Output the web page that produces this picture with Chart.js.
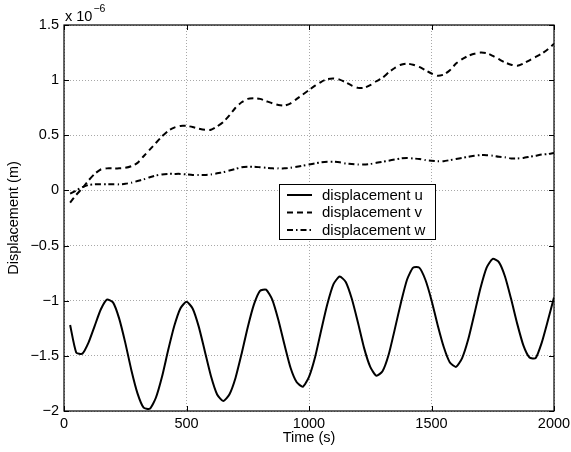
<!DOCTYPE html>
<html>
<head>
<meta charset="utf-8">
<script src="https://cdn.jsdelivr.net/npm/chart.js@4.4.1/dist/chart.umd.min.js"></script>
<style>
  html, body { margin: 0; padding: 0; background: #fff; }
  canvas { display: block; }
</style>
</head>
<body>
<canvas id="chart" width="571" height="452"></canvas>
<script>
// time samples (s)
const times = [25, 50, 75, 100, 125, 150, 175, 200, 225, 250, 275, 300, 325, 350, 375, 400,
  425, 450, 475, 500, 525, 550, 575, 600, 625, 650, 675, 700, 725, 750, 775, 800,
  825, 850, 875, 900, 925, 950, 975, 1000, 1025, 1050, 1075, 1100, 1125, 1150, 1175, 1200,
  1225, 1250, 1275, 1300, 1325, 1350, 1375, 1400, 1425, 1450, 1475, 1500, 1525, 1550, 1575, 1600,
  1625, 1650, 1675, 1700, 1725, 1750, 1775, 1800, 1825, 1850, 1875, 1900, 1925, 1950, 1975, 2000]

// displacements, in units of 1e-6 m
const dispU = [-1.22, -1.47, -1.48, -1.38, -1.23, -1.08, -0.99, -1.015, -1.16, -1.38, -1.63, -1.84, -1.97, -1.98, -1.88, -1.69,
  -1.45, -1.23, -1.07, -1.01, -1.07, -1.235, -1.46, -1.685, -1.85, -1.91, -1.85, -1.70, -1.48, -1.24, -1.035, -0.91,
  -0.90, -0.99, -1.175, -1.40, -1.61, -1.74, -1.78, -1.69, -1.51, -1.265, -1.03, -0.85, -0.78, -0.83, -0.985, -1.20,
  -1.43, -1.60, -1.68, -1.64, -1.49, -1.26, -1.02, -0.81, -0.70, -0.70, -0.81, -0.995, -1.22, -1.42, -1.56, -1.60,
  -1.52, -1.35, -1.12, -0.885, -0.70, -0.62, -0.65, -0.78, -0.985, -1.21, -1.405, -1.515, -1.52, -1.38, -1.18, -0.97]

const dispV = [-0.11, -0.04, 0.02, 0.09, 0.15, 0.19, 0.20, 0.20, 0.20, 0.205, 0.22, 0.25, 0.31, 0.37, 0.43, 0.49,
  0.54, 0.57, 0.585, 0.585, 0.575, 0.56, 0.55, 0.55, 0.58, 0.62, 0.68, 0.75, 0.80, 0.83, 0.835, 0.83,
  0.81, 0.79, 0.775, 0.77, 0.79, 0.83, 0.87, 0.91, 0.95, 0.985, 1.01, 1.015, 1.005, 0.98, 0.95, 0.93,
  0.93, 0.955, 0.99, 1.02, 1.07, 1.11, 1.14, 1.15, 1.14, 1.12, 1.09, 1.06, 1.04, 1.05, 1.09, 1.15,
  1.19, 1.22, 1.24, 1.25, 1.245, 1.22, 1.19, 1.16, 1.14, 1.13, 1.15, 1.18, 1.21, 1.24, 1.28, 1.33]

const dispW = [-0.03, 0.00, 0.03, 0.05, 0.055, 0.055, 0.055, 0.055, 0.055, 0.06, 0.07, 0.085, 0.10, 0.12, 0.135, 0.145,
  0.15, 0.15, 0.15, 0.145, 0.14, 0.14, 0.14, 0.145, 0.155, 0.165, 0.18, 0.195, 0.21, 0.215, 0.215, 0.21,
  0.205, 0.20, 0.20, 0.20, 0.205, 0.215, 0.225, 0.235, 0.245, 0.255, 0.26, 0.26, 0.255, 0.245, 0.24, 0.235,
  0.235, 0.24, 0.25, 0.26, 0.27, 0.28, 0.29, 0.295, 0.29, 0.285, 0.275, 0.27, 0.265, 0.265, 0.275, 0.285,
  0.295, 0.305, 0.315, 0.32, 0.32, 0.315, 0.305, 0.30, 0.29, 0.29, 0.295, 0.305, 0.315, 0.325, 0.33, 0.34]

const seriesLabels = ['displacement u', 'displacement v', 'displacement w']
const xTicks = [0, 500, 1000, 1500, 2000]
const yTicks = [-2, -1.5, -1, -0.5, 0, 0.5, 1, 1.5]

const FONT = '"Liberation Sans", Arial, Helvetica, sans-serif'

const toPoints = (ys) => ys.map((y, i) => ({ x: times[i], y: y }))

const fmt = (v) => {
    const s = String(Math.abs(v))
    return v < 0 ? '\u2212' + s : s
}

// box, inward ticks, exponent label and legend, MATLAB style
const matlabBits = {
    id: 'matlabBits',
    afterDraw(chart) {
        const { ctx, chartArea: a, scales } = chart
        ctx.save()
        ctx.strokeStyle = '#000'
        ctx.lineWidth = 1.2
        ctx.setLineDash([])
        ctx.strokeRect(a.left, a.top, a.right - a.left, a.bottom - a.top)

        const tl = 5
        ctx.beginPath()
        xTicks.forEach(t => {
            const x = Math.round(scales.x.getPixelForValue(t)) + 0.5
            ctx.moveTo(x, a.bottom); ctx.lineTo(x, a.bottom - tl)
            ctx.moveTo(x, a.top); ctx.lineTo(x, a.top + tl)
        })
        yTicks.forEach(t => {
            const y = Math.round(scales.y.getPixelForValue(t)) + 0.5
            ctx.moveTo(a.left, y); ctx.lineTo(a.left + tl, y)
            ctx.moveTo(a.right, y); ctx.lineTo(a.right - tl, y)
        })
        ctx.lineWidth = 1
        ctx.stroke()

        // x 10^-6
        ctx.fillStyle = '#000'
        ctx.textBaseline = 'alphabetic'
        ctx.textAlign = 'left'
        ctx.font = '14.5px ' + FONT
        ctx.fillText('x 10', a.left + 1, 21)
        const w10 = ctx.measureText('x 10').width
        ctx.font = '10.5px ' + FONT
        ctx.fillText('\u22126', a.left + 1 + w10 + 1, 12)

        // legend
        const lx = 279, ly = 184, lw = 156, lh = 55
        ctx.fillStyle = '#fff'
        ctx.fillRect(lx, ly, lw, lh)
        ctx.strokeStyle = '#000'
        ctx.lineWidth = 1
        ctx.strokeRect(lx + 0.5, ly + 0.5, lw, lh)
        const rows = [195, 212.5, 230]
        chart.data.datasets.forEach((ds, i) => {
            ctx.beginPath()
            ctx.setLineDash(ds.borderDash || [])
            ctx.lineWidth = ds.borderWidth
            ctx.moveTo(287, rows[i]); ctx.lineTo(312, rows[i])
            ctx.stroke()
            ctx.setLineDash([])
            ctx.fillStyle = '#000'
            ctx.font = '15px ' + FONT
            ctx.textBaseline = 'middle'
            ctx.fillText(ds.label, 322, rows[i] + 0.5)
        })
        ctx.restore()
    }
}

new Chart(document.getElementById('chart'), {
    type: 'line',
    data: {
        datasets: [
            { label: seriesLabels[0], data: toPoints(dispU), borderColor: '#000', borderWidth: 2, borderDash: [] },
            { label: seriesLabels[1], data: toPoints(dispV), borderColor: '#000', borderWidth: 2, borderDash: [6, 4] },
            { label: seriesLabels[2], data: toPoints(dispW), borderColor: '#000', borderWidth: 2, borderDash: [6, 3, 1.5, 3] }
        ]
    },
    options: {
        responsive: false,
        animation: false,
        layout: { padding: { top: 25, right: 17, left: 0, bottom: 0 } },
        elements: { point: { radius: 0 }, line: { tension: 0.2, fill: false } },
        plugins: { legend: { display: false }, tooltip: { enabled: false } },
        scales: {
            x: {
                type: 'linear',
                min: 0, max: 2000,
                afterBuildTicks: (s) => { s.ticks = xTicks.map(v => ({ value: v })) },
                afterFit: (s) => { s.height = 41; s.paddingLeft = 0; s.paddingRight = 0 },
                ticks: { color: '#000', padding: 4, maxRotation: 0, callback: (v) => fmt(v), font: { family: FONT, size: 14.5 } },
                grid: { color: '#a8a8a8', lineWidth: 1, drawTicks: false },
                border: { display: false, dash: [1, 2] },
                title: { display: true, text: 'Time (s)', color: '#000', padding: { top: 0, bottom: 5 }, font: { family: FONT, size: 14.5 } }
            },
            y: {
                min: -2, max: 1.5,
                afterBuildTicks: (s) => { s.ticks = yTicks.map(v => ({ value: v })) },
                afterFit: (s) => { s.width = 64; s.paddingTop = 0; s.paddingBottom = 0 },
                ticks: { color: '#000', padding: 5, callback: (v) => fmt(v), font: { family: FONT, size: 14.5 } },
                grid: { color: '#a8a8a8', lineWidth: 1, drawTicks: false },
                border: { display: false, dash: [1, 2] },
                title: { display: true, text: 'Displacement (m)', color: '#000', padding: { top: 5, bottom: 0 }, font: { family: FONT, size: 14.5 } }
            }
        }
    },
    plugins: [matlabBits]
})
</script>
</body>
</html>
